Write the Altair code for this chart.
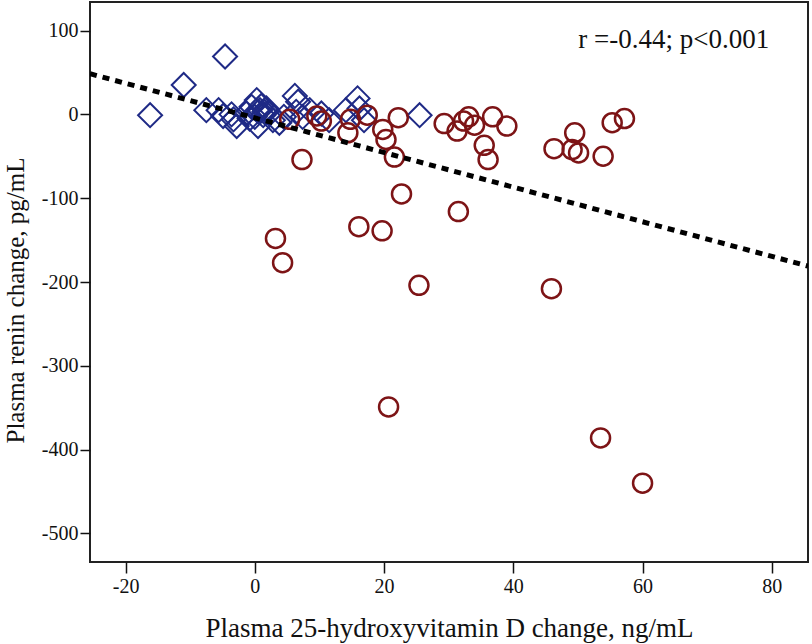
import altair as alt
import pandas as pd

# Red circles (high-dose group)
red_x = [7.3, 3.2, 4.3, 16.1, 19.7, 20.7, 22.7, 25.4, 31.5, 45.9, 53.5, 60.0,
         46.3, 49.5, 49.1, 50.1, 53.9, 55.3, 57.2,
         35.5, 36.1, 36.8, 39.0, 33.1, 32.3, 34.0, 31.3, 29.3,
         22.2, 19.8, 20.3, 21.6, 17.4, 14.4, 14.8, 9.6, 10.3, 5.4]
red_y = [-54, -148, -177, -134, -139, -349, -95, -204, -116, -208, -386, -440,
         -41, -22, -42, -46, -50, -10, -5,
         -37, -54, -3, -14, -3, -8, -13, -20, -11,
         -4, -18, -30, -51, -1, -22, -6, -2, -8, -6]

# Blue diamonds (low-dose group)
blue_x = [-16.2, -11.0, -4.6, -7.5, -5.6, -4.9, -3.6, -2.8, -3.3,
          0.3, -0.5, 0.8, 1.8, -1.3, 0.0, 1.3, 0.5, 2.3, 2.8, 0.6, 1.0, -0.8, 1.5,
          3.8, 6.2, 6.7, 6.4, 7.4, 10.3, 11.5, 14.1, 15.9, 16.2, 16.9, 25.5, 8.5, 4.5]
blue_y = [-1, 35, 69, 5, 5, -2, 0, -14, -6,
          17, 9, 5, 7, 1, -3, -1, -14, 1, -7, 3, 10, -5, 3,
          -10, 22, 15, 3, -3, 1, -7, 5, 19, 7, -7, -1, 5, -3]

# Regression line endpoints
line_x = [-25.5, 85.6]
line_y = [48.4, -181.0]

x_ticks = [-20, 0, 20, 40, 60, 80]
y_ticks = [100, 0, -100, -200, -300, -400, -500]

annot_text = ["r =-0.44; p<0.001"]
annot_x = [79.6]
annot_y = [79.0]

red_df = pd.DataFrame({"x": red_x, "y": red_y})
blue_df = pd.DataFrame({"x": blue_x, "y": blue_y})
line_df = pd.DataFrame({"x": line_x, "y": line_y})
annot_df = pd.DataFrame({"x": annot_x, "y": annot_y, "t": annot_text})

FONT = "Liberation Serif"

xscale = alt.Scale(domain=[-25.5, 85.6], nice=False, zero=False)
yscale = alt.Scale(domain=[-534, 134], nice=False, zero=False)

xaxis = alt.Axis(values=x_ticks, title="Plasma 25-hydroxyvitamin D change, ng/mL",
                 labelExpr="'' + datum.value",
                 grid=False, domain=False, tickSize=11, tickWidth=1.5, tickColor="#111",
                 labelFont=FONT, labelFontSize=20, labelColor="#111", labelPadding=3,
                 titleFont=FONT, titleFontSize=27, titleFontWeight="normal", titleColor="#111",
                 titleBaseline="alphabetic", titleY=74)
yaxis = alt.Axis(values=y_ticks, title="Plasma renin change, pg/mL",
                 labelExpr="'' + datum.value",
                 grid=False, domain=False, tickSize=10, tickWidth=1.5, tickColor="#111",
                 labelFont=FONT, labelFontSize=20, labelColor="#111", labelPadding=2,
                 titleFont=FONT, titleFontSize=25, titleFontWeight="normal", titleColor="#111",
                 titleAngle=-90, titleAlign="center", titleBaseline="alphabetic",
                 titleX=-67, titleY=298)

x_enc = alt.X("x:Q", scale=xscale, axis=xaxis)
y_enc = alt.Y("y:Q", scale=yscale, axis=yaxis)

blue = alt.Chart(blue_df).mark_point(shape="diamond", size=576, filled=False,
                                      color="#1f2a86", strokeWidth=2, opacity=1).encode(x=x_enc, y=y_enc)
red = alt.Chart(red_df).mark_point(shape="circle", size=361, filled=False,
                                    color="#7d1416", strokeWidth=2.5, opacity=1).encode(x=alt.X("x:Q", scale=xscale), y=alt.Y("y:Q", scale=yscale))
line = alt.Chart(line_df).mark_line(color="black", strokeWidth=5, strokeDash=[7, 6], clip=True).encode(
    x=alt.X("x:Q", scale=xscale), y=alt.Y("y:Q", scale=yscale))
annot = alt.Chart(annot_df).mark_text(font=FONT, fontSize=27, align="right", baseline="alphabetic",
                                      color="#111").encode(
    x=alt.X("x:Q", scale=xscale), y=alt.Y("y:Q", scale=yscale), text="t:N")

chart = alt.layer(blue, red, line, annot).properties(
    width=718, height=560,
    padding={"left": 90, "top": 2, "right": 4, "bottom": 82},
    autosize=alt.AutoSizeParams(type="none"),
    background="white",
).configure_view(stroke="#222", strokeWidth=2)

chart.save("out.html", embed_options={"renderer": "svg", "actions": False})
